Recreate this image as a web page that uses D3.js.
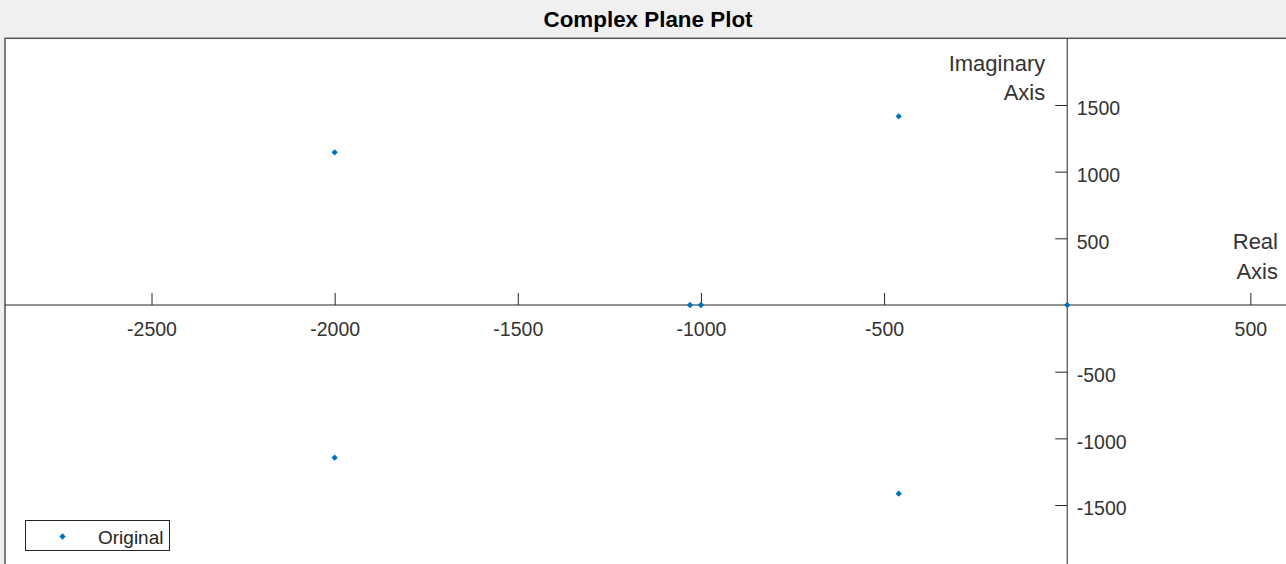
<!DOCTYPE html>
<html>
  <head>
    <meta charset="utf-8">
    <script src="https://d3js.org/d3.v7.min.js"></script>
    <title>Complex Plane Plot</title>
    <style>
      body {
        margin: 0px;
        background: #f0f0f0;
        overflow: hidden;
      }
      text {
        font-family: Arial, "Liberation Sans", Helvetica, sans-serif;
        fill: #262626;
      }
      .domain {
        display: none;
      }
      .tick line {
        stroke: #262626;
        stroke-width: 1;
      }
      .tick text {
        font-size: 19.5px;
        fill: #333;
      }
      .axis-label {
        font-size: 22px;
        text-anchor: end;
        fill: #333;
      }
    </style>
  </head>
  <body>
    <svg width="1286" height="564"></svg>
    <script>
      // roots of the original polynomial (real / imaginary parts)
      const realParts = [-2000, -2000, -460, -460, -1030, -1000, 0];
      const imagParts = [1145, -1145, 1415, -1415, 0, 0, 0];
      const xTickValues = [-2500, -2000, -1500, -1000, -500, 500];
      const yTickValues = [-1500, -1000, -500, 500, 1000, 1500];
      const xDomain = [-2900, 600];
      const yDomain = [-2000, 2000];
      const title = 'Complex Plane Plot';
      const legendLabel = 'Original';

      const points = realParts.map((re, i) => ({ re: re, im: imagParts[i] }));

      const margin = { left: 5, top: 38.3 };
      const innerWidth = 1282;
      const innerHeight = 533.4;

      const svg = d3.select('svg');

      const xScale = d3.scaleLinear()
        .domain(xDomain)
        .range([0, innerWidth]);
      const yScale = d3.scaleLinear()
        .domain(yDomain)
        .range([innerHeight, 0]);

      svg.append('text')
          .attr('x', 648)
          .attr('y', 27)
          .attr('text-anchor', 'middle')
          .style('font-size', '22.4px')
          .style('font-weight', 'bold')
          .style('fill', '#000')
          .text(title);

      const g = svg.append('g')
          .attr('transform', `translate(${margin.left},${margin.top})`);

      g.append('rect')
          .attr('width', innerWidth)
          .attr('height', innerHeight)
          .attr('fill', '#fff')
          .attr('stroke', '#555')
          .attr('stroke-width', 1.5);

      // axis lines through the origin
      g.append('line')
          .attr('x1', 0).attr('x2', innerWidth)
          .attr('y1', yScale(0)).attr('y2', yScale(0))
          .attr('stroke', '#262626');
      g.append('line')
          .attr('x1', xScale(0)).attr('x2', xScale(0))
          .attr('y1', 0).attr('y2', innerHeight)
          .attr('stroke', '#262626');

      const fmt = d => String(d);

      const xAxis = d3.axisBottom(xScale)
        .tickValues(xTickValues)
        .tickFormat(fmt)
        .tickSize(-12)
        .tickPadding(17);
      const yAxis = d3.axisRight(yScale)
        .tickValues(yTickValues)
        .tickFormat(fmt)
        .tickSize(-12)
        .tickPadding(9.5);

      g.append('g')
          .attr('transform', `translate(0,${yScale(0)})`)
          .call(xAxis);

      g.append('g')
          .attr('transform', `translate(${xScale(0)},0)`)
          .call(yAxis)
          .selectAll('.tick text')
            .attr('dy', '0.5em');

      const imLabel = g.append('text')
          .attr('class', 'axis-label');
      imLabel.append('tspan').attr('x', xScale(0) - 22).attr('y', 33).text('Imaginary');
      imLabel.append('tspan').attr('x', xScale(0) - 22).attr('y', 62).text('Axis');

      const reLabel = g.append('text')
          .attr('class', 'axis-label');
      reLabel.append('tspan').attr('x', 1273).attr('y', 211).text('Real');
      reLabel.append('tspan').attr('x', 1273).attr('y', 241).text('Axis');

      const marker = d3.symbol().type(d3.symbolSquare).size(20);

      g.selectAll('.point').data(points)
        .enter().append('path')
          .attr('class', 'point')
          .attr('d', marker)
          .attr('transform', d => `translate(${xScale(d.re)},${yScale(d.im)}) rotate(45)`)
          .attr('fill', '#0072BD');

      // legend
      const legendG = svg.append('g')
          .attr('transform', 'translate(25.5,520.5)');
      legendG.append('rect')
          .attr('width', 144)
          .attr('height', 30)
          .attr('fill', '#fff')
          .attr('stroke', '#262626');
      legendG.append('path')
          .attr('d', marker)
          .attr('transform', 'translate(37,16) rotate(45)')
          .attr('fill', '#0072BD');
      legendG.append('text')
          .attr('x', 72.5)
          .attr('y', 23)
          .style('font-size', '19px')
          .text(legendLabel);
    </script>
  </body>
</html>
